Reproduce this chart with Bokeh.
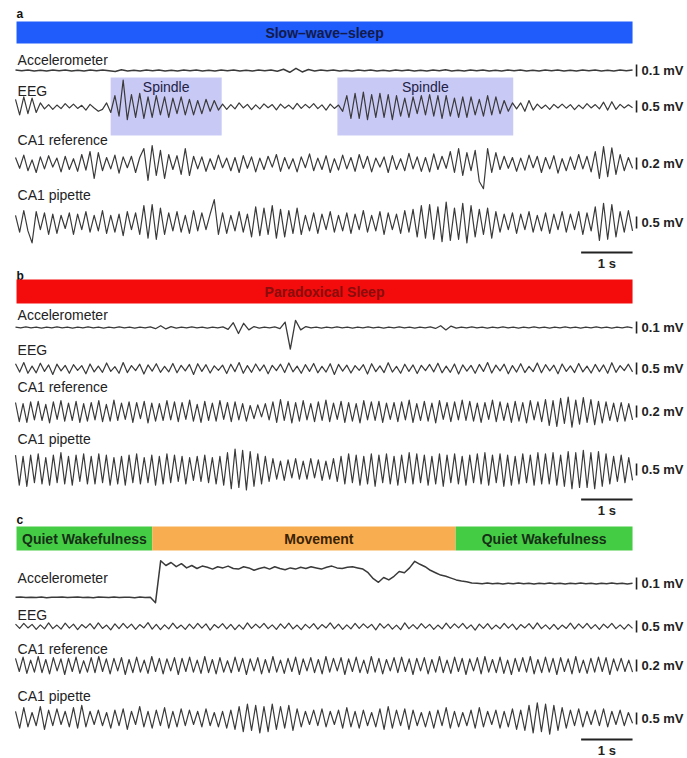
import numpy as np
from bokeh.plotting import figure
from bokeh.models import Range1d
from bokeh.embed import file_html
from bokeh.resources import INLINE
from bokeh.core.properties import value

# ---------------- data (µV, traces span 12 s) ----------------
DURATION_S = 12.0
SCALE_BAR_S = 1.0

trace_names = ["Accelerometer", "EEG", "CA1 reference", "CA1 pipette"]
scale_uv = [100, 500, 200, 500]

# panel a : slow-wave sleep
a_state = "Slow–wave–sleep"
a_spindle_start_s = [1.85, 6.26]
a_spindle_end_s = [4.01, 9.68]
a_accel = [4, -3, 5, -4, 3, -5, 4, -2, 5, -4, 3, -5, 4, -3, 5, -2, -8, 6, -4, 3,
           -5, 4, -3, 5, -4, 2, -5, 4, -3, 5, -4, 3, -5, 4, -3, 5, -4, 3, -5, 4,
           -3, 5, -6, 10, -15, 18, -12, 8, -5, 4, -3, 5, -4, 3, -5, 4, -2, 5, -4, 3,
           -5, 4, -3, 5, -4, 3, -5, 4, -3, 6, -4, 3, -5, 4, -3, 5, -4, 3, -5, 4,
           -3, 5, -4, 3, -5, 4, -3, 5, -4, 3, -5, 4, -3, 5, -4, 3, -5, 4, -3, 5]
a_eeg = [300, -350, 400, -300, 350, -250, 150,
         -100, 80, -120, 60, -90, 120, -60, 100, -80, 50, -150, 90, -60, -200, -120, 150, -250,
         450, -400, 1100, -550, 500, -450, 550, -500, 400, -450, 450, -350, 400, -450, 350, -300,
         400, -350, 300, -350, 250, -300, 300, -200, 250, -150, 100,
         -120, 80, -100, 150, -60, 90, -130, 70, -100, 110, -50, 80, -140, 100, -70, 60, -110, 130,
         -80, 90, -60, 120, -90, 70, -150, 100, -80, 60,
         -200, 450, -500, 550, -500, 600, -550, 500, -450, 550, -450, 500, -550, 450, -400, 350,
         -450, 400, -300, 450, -350, 500, -400, 450, -500, 450, -400, 350, -450, 400, -450, 400,
         -350, 300, -400, 450, -350, 400, -300, 250, -200, 150,
         -100, 150, -200, 250, -150, 100, -80, 60, -120, 90, -60, 100, -70, 80, -130, 60, -90, 120,
         -60, 80, -100, 180, -150, 200, -120, 90, -60, 70, -50]
a_ref = [100, -80, 140, -120, 60, -150, 110, -90, 130, -60, 90, -140, 120, -100, 80, -130, 150, -110, 200, -250,
         180, -120, 100, -90, 140, -160, 110, -70, 120, -150, 100, 250, -280, 300, -200, 220, -250, 150, -100, 130,
         -180, 250, -200, 120, -90, 110, -130, 80, -100, 140, -70, 90, -120, 100, -150, 130, -80, 110, -140, 90,
         -100, 120, -60, 150, -130, 100, -90, 80, -140, 110, -70, 160, -120, 90, -100, 130, -150, 80, -110, 140,
         -90, 100, -130, 150, -80, 120, -140, 90, -60, 110, -150, 130, -100, 80, -120, 170, -90, 110, -130, 100,
         -140, 160, -100, 120, -80, 200, -150, 250, -200, 180, -120, 220, -300, -420, 250, -150, 180, -100, 120, -80,
         100, -130, 90, -110, 140, -70, 120, -150, 100, -90, 130, -160, 80, -120, 110, -100, 150, -90, 120, -140,
         200, -250, 280, -220, 260, -180, 150, -120, 100, -80]
a_pip = [300, -400, 500, -350, -850, 450, -300, 400, -500, 350, -450, 300, -250, 400, -500, 350, -300, 450, -400, 300,
         -350, 500, -450, 300, -400, 350, -550, 450, -300, 400, -500, 700, -650, 750, -700, 600, -500, 400, -350, 450,
         -400, 300, -450, 500, -350, 400, -300, 350, 950, -500, 400, -450, 300, -350, 450, -400, 350, -600, 650, -550,
         600, -500, 700, -650, 550, -600, 500, -450, 600, -500, 300, -350, 400, -450, 350, -300, 450, -400, 300, -350,
         400, -450, 350, -300, 500, -400, 300, -350, 450, -500, 400, -300, 350, -450, 500, -400, 550, -600, 700, -650,
         750, -700, 650, -800, 850, -750, 600, -700, 800, -850, 700, -600, 550, -500, 600, -650, 450, -400, 350, -300,
         400, -450, 350, -300, 450, -400, 300, -350, 400, -450, 350, -300, 450, -400, 350, -300, 450, -500, 400, -350,
         650, -750, 800, -700, 750, -600, 450, -400, 500, -350]

# panel b : paradoxical sleep
b_state = "Paradoxical Sleep"
b_accel = [3, -4, 5, -3, 4, -5, 3, -4, 5, -3, 4, -5, 3, -4, 5, -3, 4, -5, 3, -4,
           5, -3, 4, -5, 3, -4, 5, -10, 15, -12, 8, -5, 3, -4, 5, -3, 4, -5, 3, -4,
           5, -15, 40, -50, 35, -20, 8, -5, 4, -3, 5, -10, 45, -180, 60, -20, 8, -4, 3, -5,
           4, -3, 5, -4, 3, -5, 4, -3, 5, -4, 3, -5, 4, -3, 5, -4, 3, -5, 4, -3,
           5, -8, 15, -20, 12, -6, 4, -3, 5, -4, 3, -5, 4, -3, 5, -4, 3, -5, 4, -3,
           5, -4, 3, -5, 4, -3, 5, -4, 3, -5, 4, -3, 5, -4, 3, -5, 4, -3, 5, -4]
b_eeg = [200, -150, 250, -200, 100, -180, 220, -120, 150, -250, 180, -100, 130, -200, 160, -80, 120, -220, 190, -140,
         100, -160, 230, -120, 80, -200, 250, -170, 120, -90, 180, -230, 150, -110, 200, -160, 90, -140, 210, -180,
         130, -100, 170, -250, 200, -120, 160, -190, 110, -80, 140, -210, 180, -130, 250, -200, 120, -160, 190, -100,
         150, -220, 130, -90, 180, -170, 230, -140, 100, -200, 160, -120, 210, -180, 90, -150, 200, -250, 170, -110,
         140, -190, 120, -80, 160, -230, 200, -130, 110, -170, 240, -150, 90, -200, 180, -120, 150, -210, 130, -90,
         170, -140, 220, -180, 100, -160, 190, -230, 150, -110, 130, -200, 170, -120, 250, -190, 140, -100, 180, -220,
         120, -150, 200, -170, 90, -130, 230, -180, 160, -100, 140, -220, 190, -120, 110, -170, 210, -140, 100, -190,
         170, -130, 150, -200, 240, -160, 120, -90, 180, -140]
b_ref = [150, -170, 130, -180, 160, -140, 170, -150, 120, -190, 160, -130, 180, -160, 140, -150, 170, -180, 130, -160,
         150, -140, 180, -170, 120, -160, 190, -150, 140, -130, 160, -180, 150, -120, 170, -190, 140, -160, 130, -150,
         180, -140, 160, -170, 150, -130, 190, -160, 120, -180, 170, -150, 140, -160, 180, -130, 150, -170, 160, -140,
         130, -160, 100, -120, 110, -90, 130, -140, 160, -180, 200, -150, 170, -190, 150, -160, 180, -140, 130, -170,
         160, -150, 190, -170, 140, -130, 170, -180, 150, -160, 130, -190, 180, -140, 160, -150, 170, -180, 140, -130,
         150, -170, 160, -140, 190, -180, 130, -150, 170, -160, 140, -190, 180, -130, 150, -170, 160, -140, 190, -150,
         170, -160, 140, -180, 150, -130, 190, -170, 160, -150, 140, -180, 170, -160, 150, -190, 180, -140, 160, -170,
         200, -230, 180, -250, 220, -200, 240, -260, 190, -210, 230, -180, 200, -220, 170, -190, 160, -150, 140, -170,
         150, -160, 130, -140]
b_pip = [600, -650, 550, -700, 600, -550, 650, -600, 500, -650, 600, -550, 700, -600, 550, -650, 600, -500, 650, -600,
         550, -600, 650, -550, 600, -650, 500, -600, 550, -650, 600, -550, 650, -600, 500, -550, 600, -650, 550, -600,
         650, -550, 600, -500, 550, -600, 500, -450, 550, -500, 600, -550, 500, -600, 550, -650, 700, -800, 850, -750,
         800, -850, 750, -700, 650, -600, 550, -500, 450, -400, 350, -450, 400, -350, 450, -400, 350, -400, 450, -350,
         400, -450, 350, -400, 450, -500, 550, -600, 650, -550, 600, -650, 550, -600, 650, -700, 600, -550, 650, -600,
         550, -650, 600, -550, 700, -600, 650, -550, 600, -650, 550, -600, 650, -700, 600, -550, 650, -600, 550, -650,
         600, -550, 650, -600, 700, -650, 600, -550, 650, -700, 600, -650, 550, -600, 650, -550, 600, -650, 700, -600,
         650, -600, 700, -650, 600, -700, 750, -800, 700, -750, 800, -750, 700, -800, 750, -700, 650, -600, 550, -500,
         600, -550, 500, -450]

# panel c : quiet wakefulness / movement
c_states = ["Quiet Wakefulness", "Movement", "Quiet Wakefulness"]
c_state_start_s = [0.0, 2.66, 8.56]
c_state_end_s = [2.66, 8.56, 12.0]
c_accel = [-115, -112, -117, -114, -116, -113, -118, -114, -115, -112, -117, -115, -113, -116, -114,
           -118, -113, -115, -117, -112, -116, -114, -115, -118, -113, -116, -115,
           -160, 190, 150, 175, 140, 165, 130, 150, 125, 145, 135, 120, 140, 130, 145, 125, 120, 140,
           130, 110, 125, 135, 120, 140, 125, 115, 130, 120, 135, 125, 140, 130, 120, 135, 145, 130,
           125, 135, 140, 130, 120, 90, 40, 10, 50, 30, 60, 100, 90, 130, 185, 160, 140, 110, 90, 70,
           60, 45, 30, 20, 15, 5,
           3, -2, 4, -3, 2, -4, 3, -2, 4, -3, 2, -4, 3, -2, 4, -3, 2, -4, 3, -2, 4, -3, 2, -4, 3, -2,
           4, -3, 2, -4, 3]
c_eeg = [100, -80, 130, -60, 90, -120, 70, -100, 150, -90, 60, -110, 140, -70, 100, -130, 80, -60, 120, -100,
         150, -80, 60, -140, 110, -90, 130, -70, 100, -120, 80, -60, 160, -110, 90, -130, 70, -100, 140, -80,
         60, -120, 100, -90, 130, -70, 110, -150, 80, -60, 120, -100, 90, -130, 70, -110, 150, -80, 100, -60,
         130, -90, 70, -120, 110, -80, 140, -100, 60, -130, 90, -70, 120, -110, 80, -60, 150, -90, 100, -120,
         70, -100, 130, -80, 110, -60, 90, -140, 120, -70, 100, -110, 60, -130, 150, -90, 80, -100, 120, -70,
         90, -120, 60, -100, 140, -80, 110, -60, 130, -90, 70, -150, 100, -80, 120, -110, 60, -90, 130, -70,
         100, -130, 80, -60, 120, -100, 150, -90, 70, -110, 90, -120, 60, -80, 140, -100, 110, -70, 130, -90,
         80, -120, 100, -60, 130, -90, 70, -110, 90, -80]
c_ref = [120, -100, 140, -130, 90, -110, 150, -120, 100, -140, 130, -90, 110, -150, 120, -100, 140, -130, 80, -110,
         130, -120, 150, -100, 110, -140, 120, -90, 130, -150, 100, -120, 140, -110, 90, -130, 150, -100, 120, -140,
         110, -90, 130, -150, 120, -100, 140, -110, 90, -130, 150, -120, 100, -140, 130, -110, 80, -120, 140, -100,
         120, -150, 110, -90, 130, -140, 100, -120, 150, -110, 90, -130, 120, -100, 140, -150, 110, -90, 130, -120,
         100, -140, 150, -110, 120, -90, 130, -150, 110, -100, 140, -120, 90, -130, 150, -110, 120, -140, 100, -90,
         130, -120, 140, -100, 110, -150, 120, -90, 130, -140, 100, -110, 150, -120, 90, -130, 140, -100, 120, -150,
         110, -90, 130, -140, 150, -110, 100, -120, 140, -130, 90, -150, 120, -100, 130, -110, 150, -140, 100, -120,
         140, -110, 120, -150, 130, -100, 110, -140, 150, -120, 90, -130, 120, -110, 140, -100, 130, -150, 110, -90,
         120, -100, 90, -110]
c_pip = [300, -400, 450, -350, 250, -300, 500, -450, 350, -300, 400, -250, 300, -350, 450, -400, 550, -350, 300, -250,
         350, -300, 250, -400, 350, -300, 400, -450, 300, -250, 500, -350, 300, -400, 350, -300, 450, -400, 300, -350,
         400, -300, 350, -250, 300, -350, 400, -300, 250, -350, 300, -400, 350, -450, 500, -550, 600, -500, 550, -600,
         500, -550, 600, -450, 500, -400, 550, -500, 400, -350, 300, -250, 350, -300, 400, -350, 300, -250, 350, -400,
         450, -350, 300, -400, 350, -300, 250, -350, 400, -450, 500, -400, 350, -300, 400, -450, 350, -300, 250, -350,
         300, -400, 350, -300, 450, -400, 300, -350, 250, -300, 350, -400, 450, -350, 300, -250, 350, -400, 300, -350,
         400, -450, 350, -500, 550, -600, 650, -550, 600, -650, 550, -500, 450, -400, 350, -300, 400, -350, 300, -250,
         350, -300, 400, -350, 300, -250, 350, -300, 250, -200]

# ---------------- layout (y in page pixel rows; x in seconds) ----------------
W, H = 687, 758
PX_PER_S = 51.42
X0_PX = 15           # trace start, pixels from the page's left edge
BAR_PX = 12          # height of a vertical scale bar
FONT = "Liberation Sans"
INK = "#3a3a3a"

x_start = -X0_PX / PX_PER_S
p = figure(width=W, height=H, output_backend="svg", toolbar_location=None,
           x_range=Range1d(x_start, x_start + W / PX_PER_S),
           y_range=Range1d(H, 0), x_axis_type=None, y_axis_type=None,
           min_border=0, outline_line_color=None, background_fill_color="white")
p.grid.visible = False


def txt(x, y, s, size="14px", style="normal", color="#222222", align="left"):
    p.text(x=[x], y=[y], text=[s], text_font=value(FONT), text_font_size=size,
           text_font_style=style, text_color=color, text_align=align,
           text_baseline="middle")


def state_bar(starts, ends, labels, colors, text_colors, y_top, y_bot, text_dx=None):
    p.quad(left=starts, right=ends, top=y_top, bottom=y_bot, fill_color=colors,
           line_color=None)
    for i, (s, e, lab, tc) in enumerate(zip(starts, ends, labels, text_colors)):
        dx = text_dx[i] if text_dx else 0
        txt((s + e) / 2 + dx, (y_top + y_bot) / 2 + 0.5, lab, size="14px",
            style="bold", color=tc, align="center")


def trace(values, y0, scale, label, label_y, lw=1.2):
    v = np.asarray(values, dtype=float)
    t = np.linspace(0, DURATION_S, len(v))
    p.line(t, y0 - v * BAR_PX / scale, line_color=INK, line_width=lw,
           line_join="round")
    txt(0.04, label_y, label)
    sb_x = DURATION_S + 4 / PX_PER_S
    p.segment(x0=[sb_x], y0=[y0 - BAR_PX / 2], x1=[sb_x], y1=[y0 + BAR_PX / 2],
              line_color="#222222", line_width=1.6)
    txt(sb_x + 5 / PX_PER_S, y0, f"{scale / 1000:.1f} mV", size="13px", style="bold",
        color="#222222")


def time_bar(y):
    p.segment(x0=[DURATION_S - SCALE_BAR_S], y0=[y], x1=[DURATION_S], y1=[y],
              line_color="#222222", line_width=1.8)
    txt(DURATION_S - SCALE_BAR_S / 2, y + 11, f"{SCALE_BAR_S:g} s", size="13px",
        style="bold", color="#222222", align="center")


# panel a
txt(0.02, 13, "a", size="12px", style="bold", color="#111111")
state_bar([0.02], [DURATION_S], [a_state], ["#1f5cfb"], ["#141a4a"], 21, 43)
p.quad(left=a_spindle_start_s, right=a_spindle_end_s, top=77, bottom=135,
       fill_color="#c9c9f6", line_color=None)
for s, e in zip(a_spindle_start_s, a_spindle_end_s):
    txt((s + e) / 2, 86, "Spindle", size="14px", color="#222244", align="center")
rows_a = [(70, 59), (106, 90), (163, 139), (222, 194)]
for vals, (y0, ly), sc, nm in zip([a_accel, a_eeg, a_ref, a_pip], rows_a, scale_uv, trace_names):
    trace(vals, y0, sc, nm, ly, lw=1.5 if nm == "Accelerometer" else 1.2)
time_bar(252)

# panel b
txt(0.02, 275, "b", size="12px", style="bold", color="#111111")
state_bar([0.02], [DURATION_S], [b_state], ["#f40c0c"], ["#8a0d0d"], 279, 303)
rows_b = [(327, 314), (368, 349), (411, 386), (469, 438)]
for vals, (y0, ly), sc, nm in zip([b_accel, b_eeg, b_ref, b_pip], rows_b, scale_uv, trace_names):
    trace(vals, y0, sc, nm, ly, lw=1.3 if nm == "Accelerometer" else 1.2)
time_bar(499)

# panel c
txt(0.02, 519, "c", size="12px", style="bold", color="#111111")
c_start = list(c_state_start_s)
c_start[0] = 0.02
state_bar(c_start, c_state_end_s, c_states, ["#45cc45", "#f8ad50", "#45cc45"],
          ["#163016", "#3a2205", "#163016"], 526, 550, text_dx=[0, 0.29, 0])
rows_c = [(583, 577), (626, 614), (665, 648), (718, 695)]
for vals, (y0, ly), sc, nm in zip([c_accel, c_eeg, c_ref, c_pip], rows_c, scale_uv, trace_names):
    trace(vals, y0, sc, nm, ly, lw=1.5 if nm == "Accelerometer" else 1.2)
time_bar(739)

open("out.html", "w").write(file_html(p, INLINE))
